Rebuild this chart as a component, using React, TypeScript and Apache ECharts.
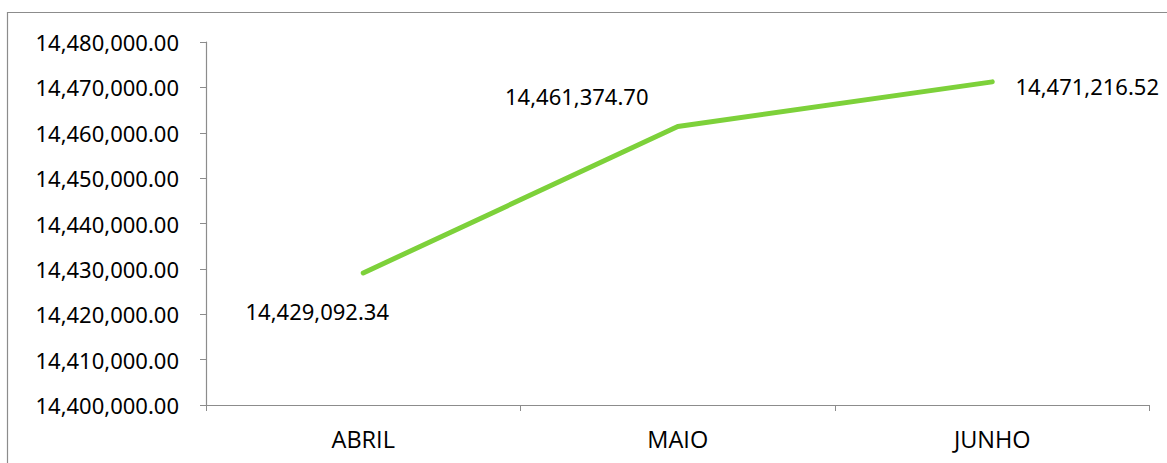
import React, { useEffect, useRef } from "react";
import * as echarts from "echarts";

const categories = ["ABRIL", "MAIO", "JUNHO"];
const values = [14429092.34, 14461374.7, 14471216.52];
const labelOffsets = [
  [-46, 38],
  [-101, -31],
  [95, 4],
];

const fmt = (v: number) =>
  v.toLocaleString("en-US", { minimumFractionDigits: 2, maximumFractionDigits: 2 });

const numFont = "'Noto Sans', sans-serif";

export default function App() {
  const ref = useRef<HTMLDivElement>(null);
  useEffect(() => {
    const chart = echarts.init(ref.current!, null, { renderer: "svg" });
    chart.setOption({
      animation: false,
      backgroundColor: "#ffffff",
      graphic: [
        {
          type: "rect",
          shape: { x: 7.5, y: 12.5, width: 1200, height: 500 },
          style: { fill: "none", stroke: "#8c8c8c", lineWidth: 1.2 },
          silent: true,
        },
      ],
      grid: { left: 206, top: 42, right: 17.5, bottom: 58 },
      xAxis: {
        type: "category",
        data: categories,
        boundaryGap: true,
        axisLine: { lineStyle: { color: "#8c8c8c", width: 1.2 } },
        axisTick: { show: true, length: 6, lineStyle: { color: "#8c8c8c" } },
        axisLabel: {
          margin: 22,
          fontSize: 23.5,
          color: "#000",
          fontFamily: "'Open Sans', 'Noto Sans', sans-serif",
        },
      },
      yAxis: {
        type: "value",
        min: 14400000,
        max: 14480000,
        interval: 10000,
        splitLine: { show: false },
        axisLine: { show: true, lineStyle: { color: "#8c8c8c", width: 1.2 } },
        axisTick: { show: true, length: 6, lineStyle: { color: "#8c8c8c" } },
        axisLabel: {
          margin: 27,
          fontSize: 22,
          color: "#000",
          fontFamily: numFont,
          formatter: (v: number) => fmt(v),
        },
      },
      series: [
        {
          type: "line",
          data: values.map((v, i) => ({
            value: v,
            label: { offset: labelOffsets[i] },
          })),
          symbol: "circle",
          symbolSize: 0,
          showSymbol: true,
          lineStyle: { color: "#7dd13a", width: 5, cap: "round", join: "round" },
          itemStyle: { color: "#7dd13a" },
          label: {
            show: true,
            position: "inside",
            fontSize: 22,
            color: "#000",
            fontFamily: numFont,
            formatter: (p: any) => fmt(p.value),
          },
        },
      ],
    });
    return () => chart.dispose();
  }, []);
  return (
    <div
      ref={ref}
      style={{ position: "absolute", left: 0, top: 0, width: 1167, height: 463 }}
    />
  );
}
